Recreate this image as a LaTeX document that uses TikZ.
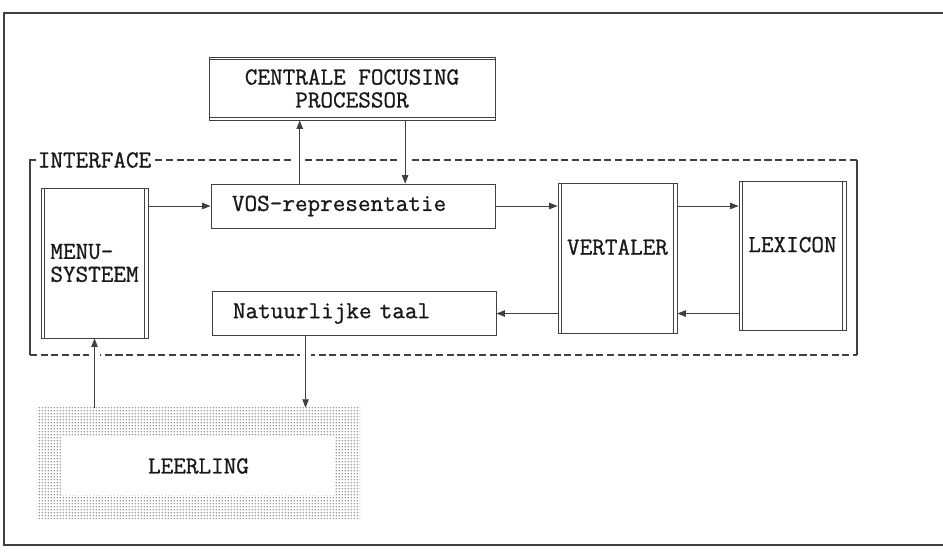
\documentclass[tikz,border=0pt]{standalone}
\usepackage{fontspec}
\usetikzlibrary{arrows.meta,calc,patterns.meta}

\newfontfamily\boxfam{Latin Modern Mono}[FakeBold=0.9]
\newcommand{\boxfont}{\boxfam\fontsize{17.4}{16.3}\selectfont}

\tikzdeclarepattern{
  name=rasterdots,
  type=uncolored,
  bottom left={(-1.1pt,-1.1pt)},
  top right={(1.1pt,1.1pt)},
  tile size={(2.2pt,2.2pt)},
  code={\fill (0pt,0pt) circle (0.55pt);}
}

\tikzset{
  box/.style={draw=black!75, line width=0.6pt, inner sep=0pt, font=\boxfont, text=black!90},
  wide/.style={box, minimum width=7.1cm, minimum height=1.1cm, text width=6.05cm, align=left},
  tall/.style={box, minimum height=3.75cm},
  dashline/.style={draw=black!75, line width=1pt, dash pattern=on 5pt off 2.6pt},
  arr/.style={draw=black!75, line width=0.6pt, -{Triangle[length=6pt,width=4.6pt]},
    preaction={draw=white, line width=8pt, -, shorten <=6pt, shorten >=6pt}}
}

\begin{document}
\begin{tikzpicture}[x=0.025cm, y=-0.025cm]
    \useasboundingbox (0,0) rectangle (943,555);
    % page frame
    \draw[black!75, line width=1.2pt] (943,13) -- (4,13) -- (4,545) -- (943,545);

    % blocks
    \node[box, minimum width=7.15cm, minimum height=1.575cm, align=center] (cfp) at (352,88.5) {CENTRALE FOCUSING\\PROCESSOR};
    \node[wide] (vos) at (353,206) {VOS-representatie};
    \node[wide] (nat) at (354,313.5) {Natuurlijke taal};
    \node[tall, minimum width=2.675cm, align=left] (menu) at (94.5,263) {MENU-\\SYSTEEM};
    \node[tall, minimum width=2.975cm, text depth=0.55cm] (vert) at (617.5,258) {VERTALER};
    \node[tall, minimum width=2.675cm, minimum height=3.725cm, text depth=0.55cm] (lex) at (792.5,255.5) {LEXICON};
    \node[minimum width=8.075cm, minimum height=2.75cm, inner sep=0pt, pattern=rasterdots, pattern color=black!80] (field) at (198.5,463) {};
    \node[box, draw=none, fill=white, minimum width=6.825cm, minimum height=1.45cm] (leer) at (198.5,466) {LEERLING};

    % double side lines
    \foreach \n in {menu,vert,lex}{
        \draw[black!75, line width=0.6pt] ([xshift=0.1cm]\n.north west) -- ([xshift=0.1cm]\n.south west);
        \draw[black!75, line width=0.6pt] ([xshift=-0.1cm]\n.north east) -- ([xshift=-0.1cm]\n.south east);
    }
    \draw[black!75, line width=0.6pt] ([yshift=-0.08cm]cfp.north west) -- ([yshift=-0.08cm]cfp.north east);
    \draw[black!75, line width=0.6pt] ([yshift=0.08cm]cfp.south west) -- ([yshift=0.08cm]cfp.south east);

    % interface frame
    \node[box, draw=none, inner sep=1pt, anchor=west] (ifc) at (36,160) {INTERFACE};
    \draw[black!75, line width=0.8pt] (ifc.west) -- (30,160) -- (30,355);
    \draw[dashline] (30,355) -- (857,355);
    \draw[black!75, line width=0.8pt] (857,355) -- (857,160);
    \draw[dashline] (857,160) -- (ifc.east);

    % connections
    \coordinate (up) at ($(vos.north west)!0.313!(vos.north east)$);
    \coordinate (down) at ($(vos.north west)!0.683!(vos.north east)$);
    \coordinate (drop) at ($(nat.south west)!0.33!(nat.south east)$);
    \draw[arr] (up) -- (up |- cfp.south);
    \draw[arr] (down |- cfp.south) -- (down);
    \draw[arr] (menu.east |- vos.west) -- (vos.west);
    \draw[arr] (vos.east) -- (vos.east -| vert.west);
    \draw[arr] (vert.east |- vos.east) -- (lex.west |- vos.east);
    \draw[arr] (lex.west |- nat.east) -- (vert.east |- nat.east);
    \draw[arr] (vert.west |- nat.east) -- (nat.east);
    \draw[arr] (drop) -- (drop |- field.north);
    \draw[arr] (field.north -| menu.south) -- (menu.south);
\end{tikzpicture}
\end{document}
